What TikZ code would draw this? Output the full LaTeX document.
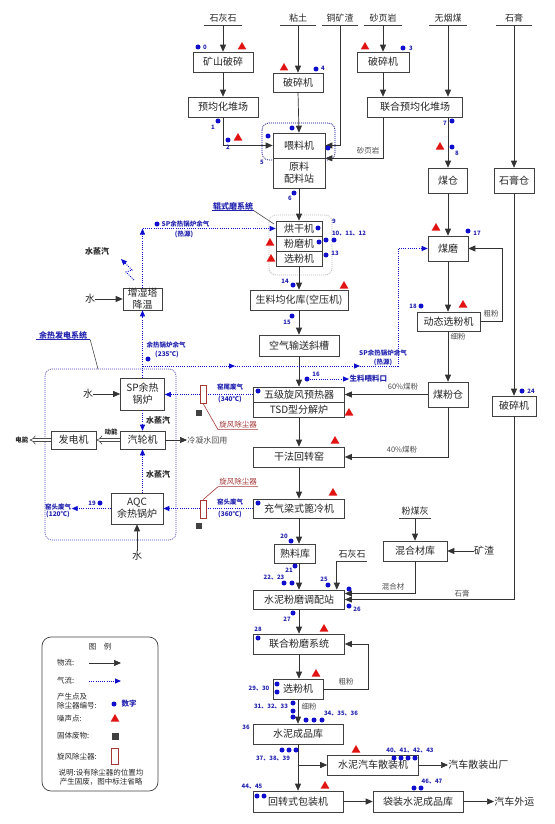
\documentclass[tikz,border=0pt]{standalone}
\usepackage{fontspec}
\setmainfont{Noto Sans CJK SC}
\usetikzlibrary{arrows.meta,shapes.geometric,calc}
\definecolor{dotblue}{RGB}{15,15,205}
\definecolor{labblue}{RGB}{35,35,175}
\definecolor{noisered}{RGB}{225,20,20}
\definecolor{cyred}{RGB}{165,55,55}
\definecolor{wastegray}{RGB}{65,65,65}
\def\pdot(#1)(#2){\node[pdot] (#1) at (#2) {};}
\def\noise(#1)(#2){\node[noise] (#1) at (#2) {};}
\tikzset{
  box/.style={draw=black!75, line width=0.6pt, fill=white, inner sep=0pt, align=center, text=black!85, font=\fontsize{10}{12}\selectfont},
  wh/.style 2 args={minimum width=#1pt, minimum height=#2pt},
  srclab/.style={inner sep=0pt, minimum height=14pt, text=black!85, font=\fontsize{9}{10}\selectfont},
  flow/.style={draw=black!80, line width=0.7pt, -{Triangle[length=7pt,width=6pt]}},
  gas/.style={draw=dotblue, line width=0.9pt, dash pattern=on 1pt off 1.2pt, -{Triangle[length=6pt,width=5pt]}},
  gaslab/.style={text=labblue, font=\fontsize{6.5}{7.5}\selectfont\bfseries, inner sep=0.5pt, align=center},
  num/.style={text=labblue, font=\fontsize{6}{7}\selectfont\bfseries, inner sep=0pt},
  pdot/.style={circle, fill=dotblue, inner sep=0pt, minimum size=5pt},
  noise/.style={regular polygon, regular polygon sides=3, fill=noisered, inner sep=0pt, minimum size=10pt},
  waste/.style={fill=wastegray, inner sep=0pt, minimum size=6pt},
  cyclone/.style={draw=cyred, fill=white, line width=0.6pt, inner sep=0pt, minimum width=6pt, minimum height=18pt},
  redlab/.style={text=cyred, font=\fontsize{7.5}{9}\selectfont, inner sep=1pt},
  note/.style={text=black!70, font=\fontsize{7.5}{9}\selectfont, inner sep=1pt},
  steam/.style={text=black!85, font=\fontsize{8}{9}\selectfont\bfseries, inner sep=1pt},
  grp/.style={draw=#1, line width=0.7pt, dash pattern=on 1pt off 1pt, rounded corners=7pt},
  lg/.style={text=black!85, font=\fontsize{7.5}{9.5}\selectfont, inner sep=0pt, anchor=west, align=left},
  power/.style={draw=black!70, line width=0.6pt, double=white, double distance=2.6pt, -{Implies}},
}

\begin{document}
\begin{tikzpicture}[x=1pt,y=-1pt]
\useasboundingbox (0,0) rectangle (554,824);

%%%%% groups %%%%%
\draw[grp=blue!55!black] (262,123) rectangle (335,160);
\draw[grp=gray!55] (269,215) rectangle (332,275);
\draw[grp=blue!45!gray] (45,369) rectangle (176,540);

%%%%% raw materials %%%%%
\node[srclab, minimum width=38pt] (shs) at (223,18) {石灰石};
\node[srclab, minimum width=36pt] (nt) at (298,18) {粘土};
\node[srclab, minimum width=36pt] (tkz) at (340,18) {铜矿渣};
\node[srclab, minimum width=38pt] (syy) at (383,18) {砂页岩};
\node[srclab, minimum width=38pt] (wym) at (448,18) {无烟煤};
\node[srclab, minimum width=36pt] (sg) at (514,18) {石膏};
\node[srclab, minimum width=30pt] (shsb) at (352,554) {石灰石};
\node[srclab, minimum width=32pt] (fmh) at (415,511) {粉煤灰};
\foreach \n in {shs,nt,tkz,syy,wym,sg,shsb,fmh}
  \draw[black!75, line width=0.6pt] (\n.south west) -- (\n.south east);

%%%%% boxes %%%%%
\node[box, wh={60}{20}] (kssc) at (223,62) {矿山破碎};
\node[box, wh={70}{20}] (yjh) at (223,107) {预均化堆场};
\node[box, wh={50}{19}] (ptja) at (298,82.5) {破碎机};
\node[box, wh={52}{25}] (wlj) at (299,145.5) {喂料机};
\node[box, wh={52}{30}] (plz) at (299,173) {原料\\配料站};
\node[box, wh={52}{20}] (ptjb) at (383,62) {破碎机};
\node[box, wh={95}{20}] (lhyjh) at (415,107) {联合预均化堆场};
\node[box, wh={39}{25}] (mc) at (448,180.5) {煤仓};
\node[box, wh={40}{25}] (sgc) at (514,180.5) {石膏仓};
\node[box, wh={46}{15}] (hgj) at (299,228.5) {烘干机};
\node[box, wh={46}{15}] (fmj) at (299,243.5) {粉磨机};
\node[box, wh={46}{15}] (xfja) at (299,258.5) {选粉机};
\node[box, wh={98}{20}] (sljhk) at (299,300) {生料均化库(空压机)};
\node[box, wh={80}{21}] (kqss) at (299,345.5) {空气输送斜槽};
\node[box, wh={91}{15}] (yrq) at (299,394.5) {五级旋风预热器};
\node[box, wh={91}{15}] (fjl) at (299,409.5) {TSD型分解炉};
\node[box, wh={91}{20}] (hzy) at (299,457) {干法回转窑};
\node[box, wh={91}{19}] (lqj) at (299,508.5) {充气梁式篦冷机};
\node[box, wh={41}{19}] (slk) at (295,553.5) {熟料库};
\node[box, wh={91}{19}] (tpz) at (299,599.5) {水泥粉磨调配站};
\node[box, wh={91}{20}] (lhfm) at (299,644) {联合粉磨系统};
\node[box, wh={50}{20}] (xfjb) at (298,689) {选粉机};
\node[box, wh={90}{20}] (cpk) at (298,734) {水泥成品库};
\node[box, wh={91}{20}] (szj) at (373,765) {水泥汽车散装机};
\node[box, wh={90}{21}] (bzj) at (298,801.5) {回转式包装机};
\node[box, wh={90}{21}] (ddk) at (418,801.5) {袋装水泥成品库};
\node[box, wh={40}{25}] (mm) at (448,248.5) {煤磨};
\node[box, wh={63}{19}] (dtx) at (448.5,321.5) {动态选粉机};
\node[box, wh={40}{25}] (mfc) at (448,394.5) {煤粉仓};
\node[box, wh={44}{20}] (ptjc) at (514,406) {破碎机};
\node[box, wh={64}{20}] (hhk) at (415,551) {混合材库};
\node[box, wh={39}{22}] (zs) at (142.5,299) {增湿塔\\降温};
\node[box, wh={44}{32}] (sp) at (142.5,394) {SP余热\\锅炉};
\node[box, wh={45}{18}] (qlj) at (142.5,440) {汽轮机};
\node[box, wh={45}{18}] (fdj) at (73.5,440) {发电机};
\node[box, wh={52}{31}] (aqc) at (137,508.5) {AQC\\余热锅炉};

%%%%% material flow %%%%%
\draw[flow] (shs.south) -- (kssc.north);
\draw[flow] (kssc.south) -- (yjh.north);
\draw[flow] (yjh.south) |- (wlj.west);
\draw[flow] (nt.south) -- (ptja.north);
\draw[flow] (ptja.south) -- (wlj.north);
\draw[flow] (tkz.south) |- (wlj.east);
\draw[flow] (syy.south) -- (ptjb.north);
\draw[flow] (ptjb.south) -- (ptjb.south |- lhyjh.north);
\draw[flow] (lhyjh.south -| ptjb) |- (wlj.south east);
\draw[flow] (wym.south) -- (wym.south |- lhyjh.north);
\draw[flow] (lhyjh.south -| mc) -- (mc.north);
\draw[flow] (sg.south) -- (sgc.north);
\draw[flow] (plz.south) -- (hgj.north);
\draw[flow] (xfja.south) -- (sljhk.north);
\draw[flow] (sljhk.south) -- (kqss.north);
\draw[flow] (kqss.south) -- (yrq.north);
\draw[flow] (fjl.south) -- (hzy.north);
\draw[flow] (hzy.south) -- (lqj.north);
\draw[flow] (lqj.south) -- (lqj.south |- slk.north);
\draw[flow] (slk.south -| tpz) -- (tpz.north);
\draw[flow] (shsb.south west) -- (shsb.south west |- tpz.north);
\draw[flow] (fmh.south) -- (hhk.north);
\node[box, draw=none, fill=none] (kz) at (484,551) {矿渣};
\draw[flow] (kz.west) -- (hhk.east);
\draw[flow] (hhk.south) |- ([yshift=6pt]tpz.east);
\draw[flow] (sgc.south) -- (sgc.south |- ptjc.north);
\draw[flow] (ptjc.south) |- (tpz.east);
\draw[flow] (tpz.south) -- (lhfm.north);
\draw[flow] (lhfm.south) -- (lhfm.south |- xfjb.north);
\draw[flow] (xfjb.east) -- ++(45,0) |- (lhfm.east);
\draw[flow] (xfjb.south) -- (xfjb.south |- cpk.north);
\draw[flow] (cpk.south) -- (bzj.north);
\coordinate (br) at (cpk.south |- szj.west);
\draw[flow] (br) -- (szj.west);
\node[box, draw=none, fill=none, anchor=west] (qcsz) at (448,765) {汽车散装出厂};
\draw[flow] (szj.east) -- (qcsz.west);
\draw[flow] (bzj.east) -- (ddk.west);
\node[box, draw=none, fill=none, anchor=west] (qcwy) at (494,801.5) {汽车外运};
\draw[flow] (ddk.east) -- (qcwy.west);
\draw[flow] (mc.south) -- (mm.north);
\draw[flow] (mm.south) -- (mm.south |- dtx.north);
\draw[flow] (dtx.east) -- ++(22,0) |- (mm.east);
\draw[flow] (dtx.south -| mfc) -- (mfc.north);
\draw[flow] (mfc.west) -- (yrq.east);
\draw[flow] (mfc.south) |- (hzy.east);

\node[note] (syyl) at (368,151) {砂页岩};
\node[note] (cfa) at (491,314) {粗粉};
\node[note] (xfa) at (458,337) {细粉};
\node[note] (mf60) at (403,387) {60\%煤粉};
\node[note] (mf40) at (402,450) {40\%煤粉};
\node[note] (hhc) at (393,587) {混合材};
\node[note] (sgl) at (462,594) {石膏};
\node[note] (cfb) at (346,682) {粗粉};
\node[note] (xfb) at (309,707) {细粉};

%%%%% waste heat power %%%%%
\node[box, draw=none, fill=none] (sa) at (90,299) {水};
\draw[flow] (sa.east) -- (zs.west);
\node[box, draw=none, fill=none] (sb) at (88,394) {水};
\draw[flow] (sb.east) -- (sp.west);
\node[box, draw=none, fill=none] (sc) at (137,556) {水};
\draw[flow] (sc.north) -- (aqc.south);
\node[box, draw=none, fill=none, anchor=west, text=black!70, font=\fontsize{8}{9}\selectfont] (lns) at (187,440) {冷凝水回用};
\draw[flow] (qlj.east) -- (lns.west);
\node[steam, font=\fontsize{6.5}{7}\selectfont\bfseries] (dn) at (22,440) {电能};
\draw[power] (qlj.west) -- (fdj.east);
\draw[power] (fdj.west) -- (dn.east);
\node[steam, font=\fontsize{6.5}{7}\selectfont\bfseries] (dnl) at (111,432) {动能};

%%%%% gas flow %%%%%
\draw[gas] (sp.north) -- (zs.south);
\coordinate (gz) at (zs.north |- hgj.west);
\draw[gas] (zs.north) -- (gz);
\draw[gas] (gz) -- (hgj.west);
\coordinate (ga) at (142.5,366);
\coordinate (gb) at (235,366);
\coordinate (gc) at (360,366);
\coordinate (gd) at (398,366);
\draw[gas] (ga) -- (gb);
\draw[gas] (gb) -- (gc);
\draw[gas] (gc) -- (gd) |- (mm.west);
\draw[gas] (yrq.west) -- (yrq.west -| sp.east);
\draw[gas] (lqj.west) -- (aqc.east);
\draw[gas] (sp.south) -- (qlj.north);
\draw[gas] (aqc.north -| qlj) -- (qlj.south);
\node[gaslab] (ytl) at (58,511) {窑头废气\\(120℃)};
\draw[gas] (aqc.west) -- (ytl.east |- aqc.west);
\draw[gas] (134,280) -- (126,272) -- (132,270) -- (121,259);
\node[steam] (zqa) at (97,251) {水蒸汽};
\node[steam] (zqb) at (158,420) {水蒸汽};
\node[steam] (zqc) at (158,474) {水蒸汽};

\pdot(dg16)(307,379)
\node[gaslab, anchor=west, font=\fontsize{7.5}{8}\selectfont\bfseries] (slwl) at (349,379) {生料喂料口};
\draw[gas] (dg16) -- (slwl.west);

\node[gaslab, anchor=west] (rqa) at (161,224) {SP余热锅炉余气};
\node[gaslab] (rqb) at (184,234) {(热源)};
\node[gaslab, anchor=west] (rqc) at (146,345) {余热锅炉余气};
\node[gaslab] (rqd) at (167,354) {(235℃)};
\node[gaslab] (rqe) at (383,353) {SP余热锅炉余气};
\node[gaslab] (rqf) at (383,362) {(热源)};
\node[gaslab] (ywa) at (230,387) {窑尾废气};
\node[gaslab] (ywb) at (230,399) {(340℃)};
\node[gaslab] (yta) at (230,502) {窑头废气};
\node[gaslab] (ytb) at (230,514) {(360℃)};

%%%%% cyclones %%%%%
\node[cyclone] (cya) at (203,394) {};
\node[cyclone] (cyb) at (203,509) {};
\node[waste] (wsa) at (199,413) {};
\node[waste] (wsb) at (199,526) {};
\node[redlab] (xcha) at (238,425) {旋风除尘器};
\node[redlab] (xchb) at (238,482) {旋风除尘器};
\draw[cyred, line width=0.6pt] (cya.south) -- (xcha.south west) -- (xcha.south east);
\draw[cyred, line width=0.6pt] (cyb.north) -- (xchb.south west) -- (xchb.south east);

%%%%% system labels %%%%%
\node[gaslab, font=\fontsize{8}{9}\selectfont\bfseries] (gsm) at (233,206) {辊式磨系统};
\draw[labblue, line width=0.6pt] (gsm.south west) -- (gsm.south east);
\coordinate (gsmc) at (274,224);
\draw[black!70, line width=0.6pt] (gsm.south east) -- (gsmc);
\node[gaslab, font=\fontsize{8}{9}\selectfont\bfseries, minimum width=54pt] (yrfd) at (63,335) {余热发电系统};
\draw[labblue, line width=0.6pt] (yrfd.south west) -- (yrfd.south east);
\coordinate (yrfdc) at (98,369);
\draw[black!70, line width=0.6pt] (yrfd.south east) -- (yrfdc);

%%%%% dust points %%%%%
\pdot(d0)(198,47) \node[num] (n0) at (205,47) {0};
\pdot(d3)(403,48) \node[num] (n3) at (411,48) {3};
\pdot(d4)(316,69) \node[num] (n4) at (323,68) {4};
\pdot(d1)(218,121) \node[num] (n1) at (213,127) {1};
\pdot(d2)(228,140) \node[num] (n2) at (228,147) {2};
\pdot(d5a)(292,128) \pdot(d5b)(268,136) \pdot(d5c)(328,148) \node[num] (n5) at (262,162) {5};
\pdot(d6)(294,193) \node[num] (n6) at (290,198) {6};
\pdot(d7)(452,121) \node[num] (n7) at (445,123) {7};
\pdot(d8)(452,147) \node[num] (n8) at (457,153) {8};
\pdot(d9)(318,228) \node[num] (n9) at (334,221) {9};
\pdot(d10)(319,242) \pdot(d11)(326,240) \pdot(d12)(334,240) \node[num] (n10) at (349,234) {10、11、12};
\pdot(d13)(326,255) \node[num] (n13) at (335,253) {13};
\pdot(d14)(293,285) \node[num] (n14) at (285,281) {14};
\pdot(d15)(292,316) \node[num] (n15) at (287,322) {15};
\node[num] (n16) at (316,374) {16};
\pdot(d17)(468,231) \node[num] (n17) at (477,233) {17};
\pdot(d18)(421,306) \node[num] (n18) at (413,306) {18};
\pdot(d19)(100,503) \node[num] (n19) at (92,503) {19};
\pdot(d20)(291,541) \node[num] (n20) at (284,536) {20};
\pdot(d21)(295,566) \node[num] (n21) at (289,570) {21};
\pdot(d22)(284,583) \pdot(d23)(292,583) \node[num] (n22) at (274,578) {22、23};
\pdot(d24)(522,391) \node[num] (n24) at (531,391) {24};
\pdot(d25)(328,585) \node[num] (n25) at (324,579) {25};
\pdot(d26a)(349,589) \pdot(d26b)(349,606) \node[num] (n26) at (357,609) {26};
\pdot(d27)(293,613) \node[num] (n27) at (287,619) {27};
\pdot(d28)(258,638) \node[num] (n28) at (258,629) {28};
\pdot(d29)(277,684) \pdot(d30)(277,692) \node[num] (n29) at (259,688) {29、30};
\pdot(d31)(293,703) \pdot(d32)(293,711) \pdot(d33)(293,717) \node[num] (n31) at (271,706) {31、32、33};
\pdot(d34)(306,720) \pdot(d35)(314,720) \pdot(d36)(322,720) \node[num] (n34) at (341,713) {34、35、36};
\node[num] (n36) at (246,727) {36};
\pdot(d37)(282,750) \pdot(d38)(289,750) \pdot(d39)(296,750) \node[num] (n37) at (273,758) {37、38、39};
\pdot(d40)(394,758) \pdot(d41)(401,758) \pdot(d42)(408,758) \pdot(d43)(415,758) \node[num] (n40) at (410,750) {40、41、42、43};
\pdot(d44)(257,796) \pdot(d45)(264,796) \node[num] (n44) at (252,787) {44、45};
\pdot(d46)(414,788) \pdot(d47)(421,788) \node[num] (n46) at (432,781) {46、47};
\pdot(dga)(157,224)
\pdot(dgb)(148,359)
\pdot(dgc)(258,391)
\pdot(dgd)(258,503)

%%%%% noise points %%%%%
\noise(ra)(242,47) \noise(rb)(284,68) \noise(rc)(365,47) \noise(rd)(238,138)
\noise(re)(440,147) \noise(rf)(270,243) \noise(rg)(271,259) \noise(rh)(344,286)
\noise(ri)(436,228) \noise(rj)(463,305) \noise(rk)(349,413) \noise(rl)(335,441)
\noise(rm)(333,493) \noise(rn)(324,629) \noise(ro)(316,674) \noise(rp)(356,750)
\noise(rq)(325,786)

%%%%% legend %%%%%
\draw[black!75, line width=0.7pt, rounded corners=9pt] (42,637) rectangle (158,791);
\node[lg, anchor=center] (lgt) at (100,647) {图\quad 例};
\node[lg] (lga) at (57,663) {物流:};
\coordinate (lga1) at (89,663); \coordinate (lga2) at (121,663);
\draw[flow] (lga1) -- (lga2);
\node[lg] (lgb) at (57,681) {气流:};
\coordinate (lgb1) at (89,681); \coordinate (lgb2) at (121,681);
\draw[gas] (lgb1) -- (lgb2);
\node[lg] (lgc) at (57,701) {产生点及\\除尘器编号:};
\pdot(lgd)(114,704)
\node[gaslab, anchor=west, font=\fontsize{7.5}{8}\selectfont\bfseries] (lgdn) at (121,704) {数字};
\node[lg] (lge) at (57,719) {噪声点:};
\noise(lgr)(115,719)
\node[lg] (lgf) at (57,736) {固体废物:};
\node[waste, minimum size=7pt] (lgw) at (115,736) {};
\node[lg] (lgg) at (57,757) {旋风除尘器:};
\node[cyclone, minimum width=7pt, minimum height=16pt] (lgy) at (115,756) {};
\node[lg, anchor=center, align=center] (lgh) at (101,777) {说明:设有除尘器的位置均\\产生固废，图中标注省略};

\end{tikzpicture}
\end{document}
